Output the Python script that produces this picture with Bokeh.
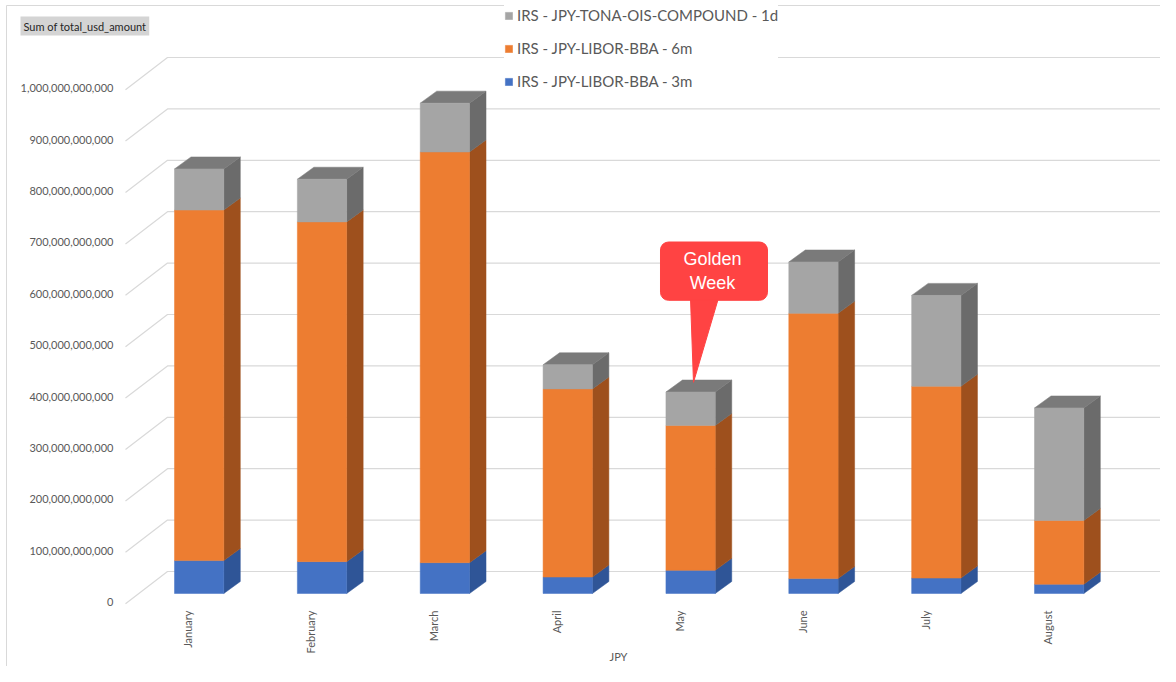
import math
from bokeh.plotting import figure
from bokeh.models import Range1d, Legend, LegendItem, Label
from bokeh.embed import file_html
from bokeh.resources import INLINE
from bokeh.core.properties import value

# ---------------- data ----------------
months = ["January", "February", "March", "April", "May", "June", "July", "August"]
libor_3m = [64e9, 62e9, 60e9, 32e9, 45e9, 29e9, 30e9, 18e9]
libor_6m = [682e9, 661e9, 799e9, 366e9, 282e9, 516e9, 373e9, 124e9]
tona_1d = [80e9, 83e9, 95e9, 47e9, 65e9, 100e9, 177e9, 219e9]
series_names = ["IRS - JPY-LIBOR-BBA - 3m", "IRS - JPY-LIBOR-BBA - 6m",
                "IRS - JPY-TONA-OIS-COMPOUND - 1d"]
y_ticks = [0, 100e9, 200e9, 300e9, 400e9, 500e9, 600e9, 700e9, 800e9, 900e9, 1000e9]
y_tick_labels = [f"{v:,.0f}" for v in y_ticks]
annot_month = "May"
annot_text = "Golden\nWeek"

# ---------------- layout constants (pixels) ----------------
W, H = 1160, 666
XS = 122.86            # px per category
X0 = 198.65            # px from left to first category centre
YS = 0.514e-9          # px per USD
Y0 = 593.0             # px from top to front zero
BAR_W = 49.3 / XS
DX = 16.5 / XS
DV = 12.0 / YS

def px_x(px):          # canvas px -> x data
    return (px - X0) / XS

def px_y(py):          # canvas px -> y data
    return (Y0 - py) / YS

TXT = "#595959"
GRID = "#d9d9d9"
colors_front = ["#4472C4", "#ED7D31", "#A5A5A5"]
colors_side = ["#2F5597", "#9E501D", "#6B6B6B"]
color_top = "#7A7A7A"

p = figure(width=W, height=H, output_backend="svg", toolbar_location=None,
           x_axis_type=None, y_axis_type=None,
           x_range=Range1d(px_x(0), px_x(W)), y_range=Range1d(px_y(H), px_y(0)),
           min_border=0)
p.outline_line_color = None
p.background_fill_color = "white"
p.border_fill_color = "white"

# chart border
p.line([px_x(6), px_x(6), px_x(W)], [px_y(H), px_y(5), px_y(5)], line_color=GRID, line_width=1)

# ---------------- back wall gridlines ----------------
gx, gy = [], []
for v in y_ticks:
    gx.append([px_x(125), px_x(167), px_x(1165)])
    gy.append([v - 10.2 / YS, v + 22.0 / YS, v + 22.0 / YS])
p.multi_line(gx, gy, line_color=GRID, line_width=1.2)
p.line([px_x(1165), px_x(1165)], [px_y(5), y_ticks[-1] + 22.0 / YS], line_color=GRID, line_width=1)

# y tick labels
p.text(x=[px_x(113)] * len(y_ticks), y=[v - 8.7 / YS for v in y_ticks], text=y_tick_labels,
       text_font=value("Lato"), text_font_size="11px", text_color=TXT,
       text_align="right", text_baseline="middle")

# ---------------- 3D stacked bars ----------------
xs = list(range(len(months)))
layers = [libor_3m, libor_6m, tona_1d]
bottoms = [0.0] * len(months)
side_xs, side_ys, side_cols = [], [], []
fronts = []
for k, layer in enumerate(layers):
    tops = [b + v for b, v in zip(bottoms, layer)]
    for i in xs:
        r = i + BAR_W / 2
        side_xs.append([r, r + DX, r + DX, r])
        side_ys.append([bottoms[i], bottoms[i] + DV, tops[i] + DV, tops[i]])
        side_cols.append(colors_side[k])
    fronts.append((list(bottoms), tops))
    bottoms = tops
totals = bottoms
p.patches(side_xs, side_ys, fill_color=side_cols, line_color=side_cols, line_width=0.5)
top_xs = [[i - BAR_W / 2, i - BAR_W / 2 + DX, i + BAR_W / 2 + DX, i + BAR_W / 2] for i in xs]
top_ys = [[t, t + DV, t + DV, t] for t in totals]
p.patches(top_xs, top_ys, fill_color=color_top, line_color=color_top, line_width=0.5)
front_renderers = []
for k, (b, t) in enumerate(fronts):
    rr = p.quad(left=[i - BAR_W / 2 for i in xs], right=[i + BAR_W / 2 for i in xs],
                bottom=b, top=t, fill_color=colors_front[k], line_color=colors_front[k],
                line_width=0.5)
    front_renderers.append(rr)

# month labels (category axis)
p.text(x=[i - 11.2 / XS for i in xs], y=[px_y(610)] * len(xs), text=months,
       angle=math.pi / 2, text_font=value("Lato"), text_font_size="11px", text_color=TXT,
       text_align="right", text_baseline="middle")

# ---------------- legend ----------------
legend = Legend(items=[LegendItem(label=series_names[2], renderers=[front_renderers[2]]),
                       LegendItem(label=series_names[1], renderers=[front_renderers[1]]),
                       LegendItem(label=series_names[0], renderers=[front_renderers[0]])],
                location=(504, 575), orientation="vertical",
                glyph_width=9, glyph_height=9, label_standoff=4, label_height=20,
                spacing=13, padding=4, margin=0,
                label_text_font="Lato", label_text_font_size="15px", label_text_color=TXT,
                background_fill_color="white", background_fill_alpha=1.0,
                border_line_color=None)
p.add_layout(legend, "center")

# ---------------- titles ----------------
p.add_layout(Label(x=20, y=H - 16, x_units="screen", y_units="screen",
                   text="Sum of total_usd_amount", text_font="Lato", text_font_size="11px",
                   text_color="#262626", text_baseline="top", text_align="left",
                   background_fill_color="#d4d4d4", padding=3))
p.add_layout(Label(x=618, y=H - 656, x_units="screen", y_units="screen", text="JPY",
                   text_font="Lato", text_font_size="11px", text_color=TXT,
                   text_align="center", text_baseline="middle"))

# ---------------- callout ----------------
mi = months.index(annot_month)
mt = totals[mi]
RED = "#FF4343"
tail_x = [mi - 0.1 / XS, mi + 27.9 / XS, mi + 2.9 / XS]
tail_y = [mt + 94 / YS, mt + 94 / YS, mt + 9.7 / YS]
p.patch(tail_x, tail_y, fill_color=RED, line_color=RED)
p.quad(left=[mi - 30.1 / XS], right=[mi + 76.9 / XS], bottom=[mt + 91.7 / YS],
       top=[mt + 150 / YS], fill_color=RED, line_color=RED, border_radius=8)
p.text(x=[mi + 21.9 / XS], y=[mt + 120.8 / YS], text=[annot_text],
       text_font=value("Liberation Sans"), text_font_size="18px", text_color="white",
       text_align="center", text_baseline="middle", text_line_height=1.2)

open("out.html", "w").write(file_html(p, INLINE))
